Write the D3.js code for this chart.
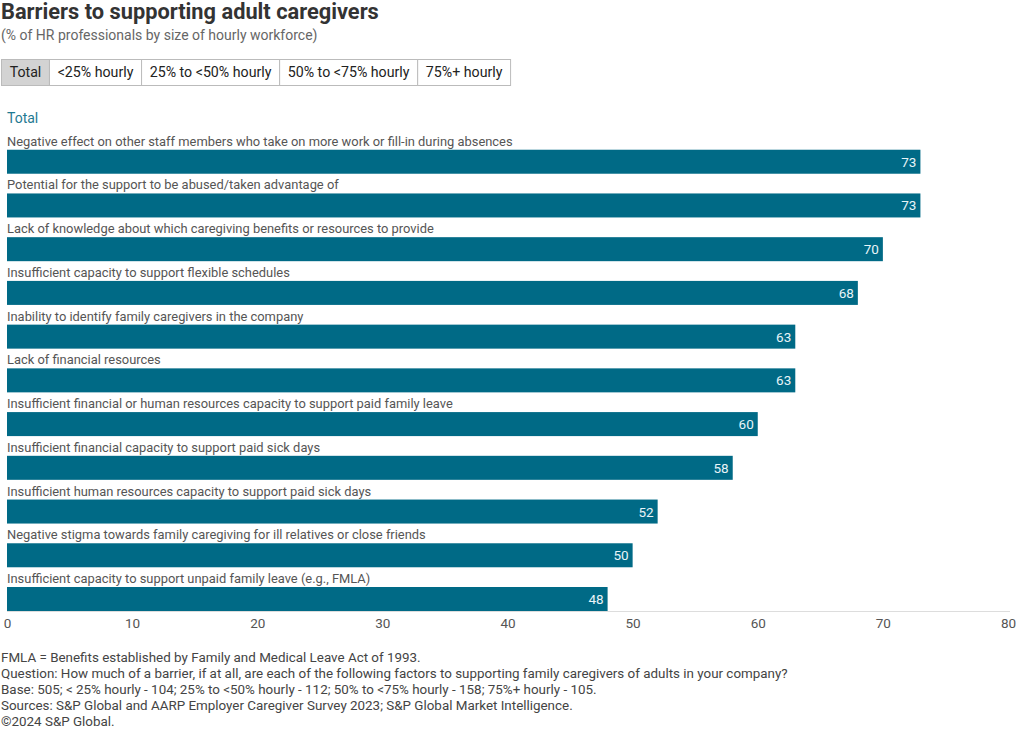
<!DOCTYPE html>
<html><head><meta charset="utf-8">
<script src="https://cdn.jsdelivr.net/npm/d3@7"></script>
<style>
body{margin:0;background:#fff;font-family:Roboto,"Noto Sans",sans-serif;}
svg{display:block}
</style></head>
<body>
<svg id="chart" width="1020" height="730"></svg>
<script>
const categories = [
  "Negative effect on other staff members who take on more work or fill-in during absences",
  "Potential for the support to be abused/taken advantage of",
  "Lack of knowledge about which caregiving benefits or resources to provide",
  "Insufficient capacity to support flexible schedules",
  "Inability to identify family caregivers in the company",
  "Lack of financial resources",
  "Insufficient financial or human resources capacity to support paid family leave",
  "Insufficient financial capacity to support paid sick days",
  "Insufficient human resources capacity to support paid sick days",
  "Negative stigma towards family caregiving for ill relatives or close friends",
  "Insufficient capacity to support unpaid family leave (e.g., FMLA)"
];
const values = [73, 73, 70, 68, 63, 63, 60, 58, 52, 50, 48];
const xTicks = [0, 10, 20, 30, 40, 50, 60, 70, 80];
const tabs = ["Total", "<25% hourly", "25% to <50% hourly", "50% to <75% hourly", "75%+ hourly"];
const footnotes = [
  "FMLA = Benefits established by Family and Medical Leave Act of 1993.",
  "Question: How much of a barrier, if at all, are each of the following factors to supporting family caregivers of adults in your company?",
  "Base: 505; < 25% hourly - 104; 25% to <50% hourly - 112; 50% to <75% hourly - 158; 75%+ hourly - 105.",
  "Sources: S&P Global and AARP Employer Caregiver Survey 2023; S&P Global Market Intelligence.",
  "\u00A92024 S&P Global."
];

const svg = d3.select("#chart");
const barColor = "#006a86";

svg.append("text").attr("x", 1).attr("y", 19)
  .attr("font-size", 21.8).attr("font-weight", 700).attr("fill", "#333")
  .text("Barriers to supporting adult caregivers");
svg.append("text").attr("x", 1).attr("y", 40)
  .attr("font-size", 14).attr("fill", "#666")
  .text("(% of HR professionals by size of hourly workforce)");

// tabs
const tabG = svg.append("g");
let tx = 1;
tabs.forEach((t, i) => {
  const tmp = tabG.append("text").attr("font-size", 14.2).attr("fill", "#222").text(t);
  const w = tmp.node().getComputedTextLength() + 16.3;
  tabG.insert("rect", "text").attr("x", tx + 0.5).attr("y", 59.5).attr("width", w).attr("height", 26)
    .attr("fill", i === 0 ? "#d3d3d3" : "#fff").attr("stroke", "#bbb");
  tmp.attr("x", tx + 0.5 + w / 2).attr("y", 77).attr("text-anchor", "middle");
  tx += w;
});

svg.append("text").attr("x", 7).attr("y", 123)
  .attr("font-size", 14).attr("fill", "#1f7a92").text("Total");

const x = d3.scaleLinear().domain([0, 80]).range([7, 1008]);
const y = d3.scaleBand().domain(categories).range([131, 612]).paddingInner(0).paddingOuter(0);
const barH = 24;

const g = svg.append("g");
categories.forEach((c, i) => {
  const top = y(c) + y.bandwidth() - barH - 1;
  g.append("text").attr("x", 7).attr("y", top - 4)
    .attr("font-size", 12.9).attr("fill", "#555").text(c);
  g.append("rect").attr("x", x(0)).attr("y", top)
    .attr("width", x(values[i]) - x(0)).attr("height", barH).attr("fill", barColor);
  g.append("text").attr("x", x(values[i]) - 4).attr("y", top + 17)
    .attr("text-anchor", "end").attr("font-size", 13.5).attr("fill", "#e8f4f8").text(values[i]);
});

const axis = svg.append("g").attr("transform", "translate(0,611.5)")
  .call(d3.axisBottom(x).tickValues(xTicks).tickSize(0).tickPadding(7));
axis.select(".domain").attr("stroke", "#ddd").attr("d", "M7,0H1010");
axis.selectAll("text").attr("font-size", 13.5).attr("fill", "#555").attr("font-family", "Roboto,sans-serif");

footnotes.forEach((f, i) => {
  svg.append("text").attr("x", 1).attr("y", 662 + i * 16)
    .attr("font-size", 13.4).attr("fill", "#444").text(f);
});
</script>
</body></html>
